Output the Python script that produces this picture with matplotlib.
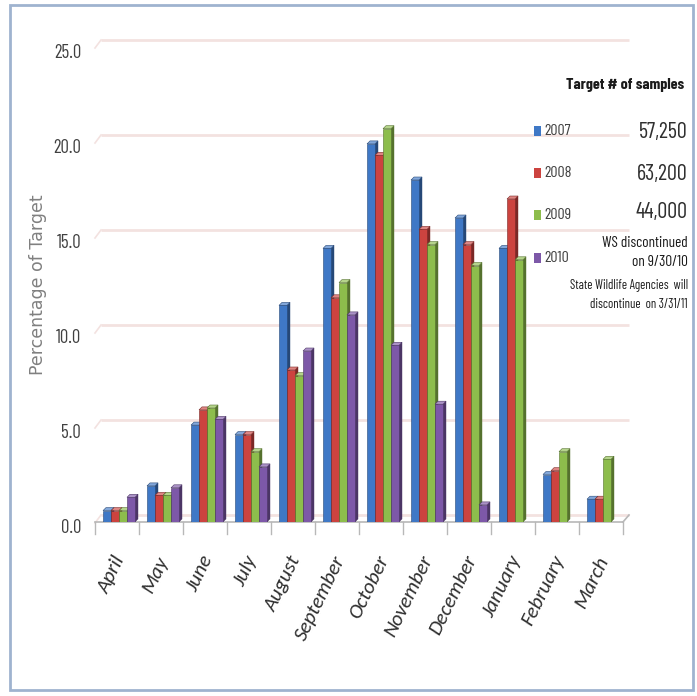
import matplotlib
matplotlib.use("Agg")
import matplotlib.pyplot as plt
from matplotlib.patches import Polygon, Rectangle
from matplotlib.transforms import ScaledTranslation
from matplotlib import font_manager
import matplotlib.colors as mcolors

# ---- data -------------------------------------------------------------
months = ["April", "May", "June", "July", "August", "September", "October",
          "November", "December", "January", "February", "March"]
years = ["2007", "2008", "2009", "2010"]
pct_2007 = [0.6, 1.9, 5.1, 4.6, 11.4, 14.4, 19.9, 18.0, 16.0, 14.4, 2.5, 1.2]
pct_2008 = [0.6, 1.4, 5.9, 4.6, 8.0, 11.8, 19.3, 15.4, 14.6, 17.0, 2.7, 1.2]
pct_2009 = [0.6, 1.4, 6.0, 3.7, 7.7, 12.6, 20.7, 14.6, 13.5, 13.8, 3.7, 3.3]
pct_2010 = [1.3, 1.8, 5.4, 2.9, 9.0, 10.9, 9.3, 6.2, 0.9, None, None, None]
target_samples = ["57,250", "63,200", "44,000"]
notes = ["WS discontinued", "on 9/30/10",
         "State Wildlife Agencies  will", "discontinue  on 3/31/11"]
y_ticks = [0, 5, 10, 15, 20, 25]

series = [pct_2007, pct_2008, pct_2009, pct_2010]
colors = ["#3f78c6", "#cc433f", "#8dbd4c", "#7d58a8"]

# ---- fonts ------------------------------------------------------------
installed = {f.name for f in font_manager.fontManager.ttflist}


def pick(cands):
    for cand in cands:
        if cand in installed:
            return [cand, "DejaVu Sans"]
    return ["DejaVu Sans"]


NARROW = pick(["Barlow Condensed", "Archivo Narrow", "Liberation Sans Narrow"])
HUMANIST = pick(["Carlito", "Lato", "Open Sans"])

# ---- figure / axes in pixel terms --------------------------------------
W, H = 697, 696
fig = plt.figure(figsize=(W / 100, H / 100), dpi=100)
fig.patch.set_facecolor("white")

X0, X1 = 95, 623       # floor front edge, left/right
Y0, Y25 = 522, 47      # value 0 and value 25
ax = fig.add_axes([X0 / W, 1 - Y0 / H, (X1 - X0) / W, (Y0 - Y25) / H])
ax.set_xlim(-0.5, 11.5)
ax.set_ylim(0, 25)
ax.patch.set_alpha(0)
for s in ax.spines.values():
    s.set_visible(False)

px_x = 12.0 / (X1 - X0)
px_y = 25.0 / (Y0 - Y25)


def shifted(dx_px, dy_px):
    return ax.transData + ScaledTranslation(dx_px / 100, dy_px / 100, fig.dpi_scale_trans)


# back-wall gridlines and left-wall stubs
BACK_DX, BACK_DY = 6, 7
grid_col = "#f3e2e0"
for v in y_ticks:
    ax.plot([-0.5, 11.5], [v, v], transform=shifted(BACK_DX, BACK_DY),
            color=grid_col, lw=2.0, zorder=0, clip_on=False, solid_capstyle="butt")
    ax.plot([-0.5, -0.5 + BACK_DX * px_x], [v - 1 * px_y, v + BACK_DY * px_y],
            color=grid_col, lw=1.2, zorder=0, clip_on=False)

# floor
floor_col = "#b8b8b8"
ax.plot([-0.5, 11.5], [0, 0], color=floor_col, lw=1.2, zorder=1, clip_on=False)
ax.plot([11.5, 11.5 + BACK_DX * px_x], [0, BACK_DY * px_y], color=floor_col,
        lw=1.2, zorder=1, clip_on=False)
for k in range(13):
    ax.plot([-0.5 + k, -0.5 + k], [0, -12 * px_y], color=floor_col, lw=1.0,
            zorder=1, clip_on=False)

# 3-D looking clustered columns
width = 8 * px_x
DX, DY = 3 * px_x, 3 * px_y
offsets = [(i - 1.5) * width + 2 * px_x for i in range(4)]
for i, (vals, c) in enumerate(zip(series, colors)):
    rgb = mcolors.to_rgb(c)
    light = tuple(min(1, ch + (1 - ch) * 0.35) for ch in rgb)
    dark = tuple(ch * 0.6 for ch in rgb)
    for j, v in enumerate(vals):
        if v is None:
            continue
        x = j + offsets[i]
        left = x - width / 2
        z = 3 + i * 0.1
        side = Polygon([(left + width, 0), (left + width + DX, DY),
                        (left + width + DX, v + DY), (left + width, v)],
                       closed=True, facecolor=dark, edgecolor=dark, lw=0.3, zorder=z)
        top = Polygon([(left, v), (left + width, v), (left + width + DX, v + DY),
                       (left + DX, v + DY)],
                      closed=True, facecolor=light, edgecolor=dark, lw=0.4, zorder=z)
        ax.add_patch(side)
        ax.add_patch(top)
        ax.bar(x, v, width, color=c, edgecolor=dark, linewidth=0.4, zorder=z + 0.01)

# tick labels
ax.set_yticks(y_ticks)
ax.set_yticklabels([f"{t:.1f}" for t in y_ticks])
ax.tick_params(axis="y", length=0, pad=10, labelsize=13.5, labelcolor="#404040")
for lab in ax.get_yticklabels():
    lab.set_family(NARROW)
    lab.set_transform(lab.get_transform() + ScaledTranslation(0, -4 / 100, fig.dpi_scale_trans))

ax.set_xticks(range(len(months)))
ax.set_xticklabels(months, rotation=64, ha="right", va="center",
                   rotation_mode="anchor", style="italic")
ax.tick_params(axis="x", length=0, pad=25, labelsize=15, labelcolor="#303030")
for lab in ax.get_xticklabels():
    lab.set_family(HUMANIST)
    lab.set_transform(lab.get_transform() + ScaledTranslation(3 / 100, 0, fig.dpi_scale_trans))

# axis title
fig.text(38 / W, 1 - 285 / H, "Percentage of Target", rotation=90, ha="center",
         va="center", color="#808080", fontsize=12.5, family="DejaVu Sans")


def ftext(xp, yp, s, **kw):
    kw.setdefault("family", NARROW)
    return fig.text(xp / W, 1 - yp / H, s, **kw)


# legend with target counts
ftext(684, 85, "Target # of samples", ha="right", va="center", fontsize=11.5,
      fontweight="bold", color="#1a1a1a")
legend_y = [131, 173, 215, 258]
for yr, c, yp in zip(years, colors, legend_y):
    fig.patches.append(Rectangle((534 / W, 1 - (yp + 5) / H), 7 / W, 10 / H,
                                 transform=fig.transFigure, facecolor=c,
                                 edgecolor="none", figure=fig))
    ftext(544, yp, yr, ha="left", va="center", fontsize=11.5, color="#404040")
for s, yp in zip(target_samples, [133, 174, 213]):
    ftext(688, yp, s, ha="right", va="center", fontsize=16, color="#303030")
for s, yp, fs in zip(notes, [243, 262, 285, 304], [11, 11, 9.2, 9.2]):
    ftext(688, yp, s, ha="right", va="center", fontsize=fs, color="#1a1a1a")

# frame
fig.patches.append(Rectangle((10 / W, 1 - 690 / H), 683 / W, 685 / H,
                             transform=fig.transFigure, fill=False,
                             edgecolor="#9fb3cf", lw=2, figure=fig))

fig.savefig("out.png", dpi=100)
